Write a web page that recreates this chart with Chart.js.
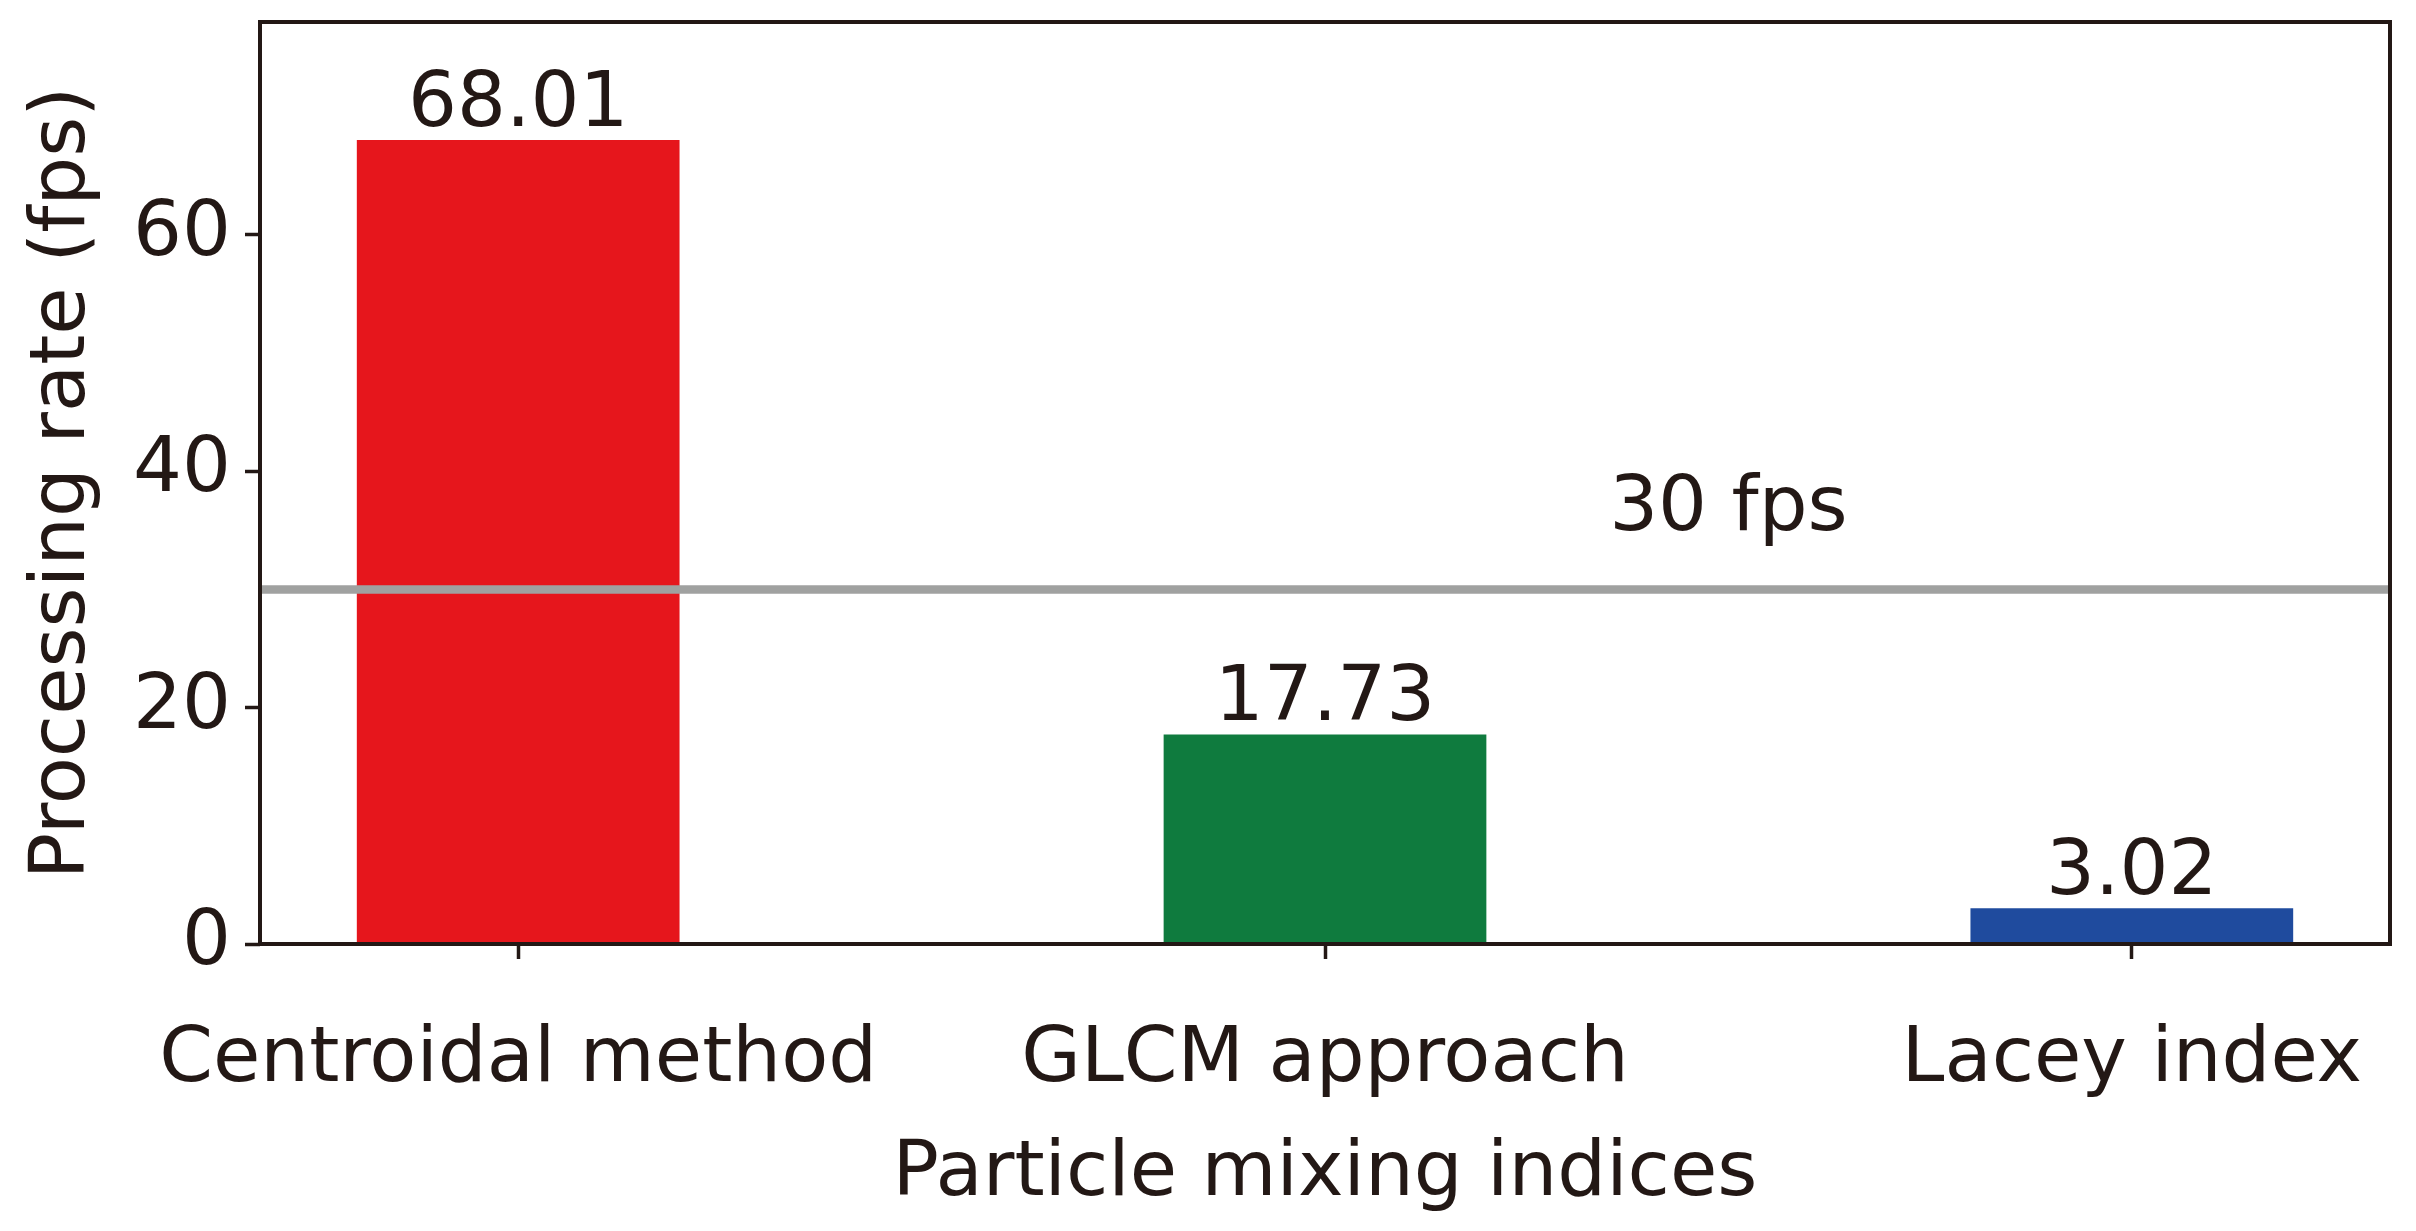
<!DOCTYPE html>
<html>
<head>
<meta charset="utf-8">
<script src="https://cdn.jsdelivr.net/npm/chart.js@4"></script>
<style>
  html, body { margin: 0; padding: 0; background: #fff; }
  #wrap { width: 2416px; height: 1231px; }
</style>
</head>
<body>
<div id="wrap"><canvas id="chart" width="2416" height="1231"></canvas></div>
<script>
// values
const categories = ['Centroidal method', 'GLCM approach', 'Lacey index'];
const rates = [68.01, 17.73, 3.02];
const barColors = ['#E6161C', '#0F7B3E', '#1F4B9E'];
const yTicks = [0, 20, 40, 60];
const threshold = 30;
const thresholdLabel = '30 fps';
const thresholdLabelPos = { x: 1.5, y: 35 };

const ink = '#231815';
const font = 'DejaVu Sans';
const fsize = 77;

// draws the frame, the 30 fps line and the value labels on top of the bars
const extras = {
    id: 'extras',
    afterDatasetsDraw(chart) {
        const { ctx, chartArea: a, scales: { x, y } } = chart;
        ctx.save();

        // 30 fps line
        const ty = y.getPixelForValue(threshold);
        ctx.strokeStyle = '#A0A1A0';
        ctx.lineWidth = 8.5;
        ctx.beginPath();
        ctx.moveTo(a.left, ty);
        ctx.lineTo(a.right, ty);
        ctx.stroke();

        // frame
        ctx.strokeStyle = ink;
        ctx.lineWidth = 4;
        ctx.strokeRect(a.left, a.top, a.right - a.left, a.bottom - a.top);

        // labels
        ctx.fillStyle = ink;
        ctx.font = `${fsize}px "${font}"`;
        ctx.textAlign = 'center';
        ctx.textBaseline = 'alphabetic';
        chart.getDatasetMeta(0).data.forEach((bar, i) => {
            ctx.fillText(rates[i].toFixed(2), bar.x, bar.y - 14);
        });
        ctx.fillText(thresholdLabel,
            x.getPixelForValue(thresholdLabelPos.x),
            y.getPixelForValue(thresholdLabelPos.y));
        ctx.restore();
    }
};

new Chart(document.getElementById('chart'), {
    type: 'bar',
    data: {
        datasets: [{
            data: rates.map((v, i) => ({ x: i, y: v })),
            backgroundColor: barColors,
            borderWidth: 0,
            barPercentage: 0.4,
            categoryPercentage: 1.0
        }]
    },
    options: {
        responsive: false,
        animation: false,
        devicePixelRatio: 1,
        layout: { padding: { top: 22, right: 26, left: 0, bottom: 0 } },
        plugins: { legend: { display: false }, tooltip: { enabled: false } },
        scales: {
            x: {
                type: 'linear',
                offset: false,
                min: -0.32,
                max: 2.32,
                afterBuildTicks: (s) => { s.ticks = categories.map((c, i) => ({ value: i })); },
                afterFit: (s) => {
                    s.height = 287;
                    s.paddingLeft = 0;
                    s.paddingRight = 0;
                },
                ticks: {
                    callback: (v) => categories[v],
                    color: ink,
                    font: { family: font, size: fsize },
                    padding: 56,
                    maxRotation: 0,
                    autoSkip: false
                },
                grid: { offset: false, drawOnChartArea: false, drawTicks: true, tickLength: 15, tickWidth: 3.5, tickColor: ink },
                border: { display: false },
                title: {
                    display: true,
                    text: 'Particle mixing indices',
                    color: ink,
                    font: { family: font, size: fsize },
                    padding: { top: 0, bottom: 10 }
                }
            },
            y: {
                min: 0,
                max: 78,
                afterBuildTicks: (s) => { s.ticks = yTicks.map(v => ({ value: v })); },
                afterFit: (s) => {
                    s.width = 260;
                    s.paddingTop = 0;
                    s.paddingBottom = 0;
                },
                ticks: {
                    color: ink,
                    font: { family: font, size: fsize },
                    padding: 14
                },
                grid: { drawOnChartArea: false, drawTicks: true, tickLength: 15, tickWidth: 3.5, tickColor: ink },
                border: { display: false },
                title: {
                    display: true,
                    text: 'Processing rate (fps)',
                    color: ink,
                    font: { family: font, size: fsize },
                    padding: { top: 18, bottom: 0 }
                }
            }
        }
    },
    plugins: [extras]
});
</script>
</body>
</html>
